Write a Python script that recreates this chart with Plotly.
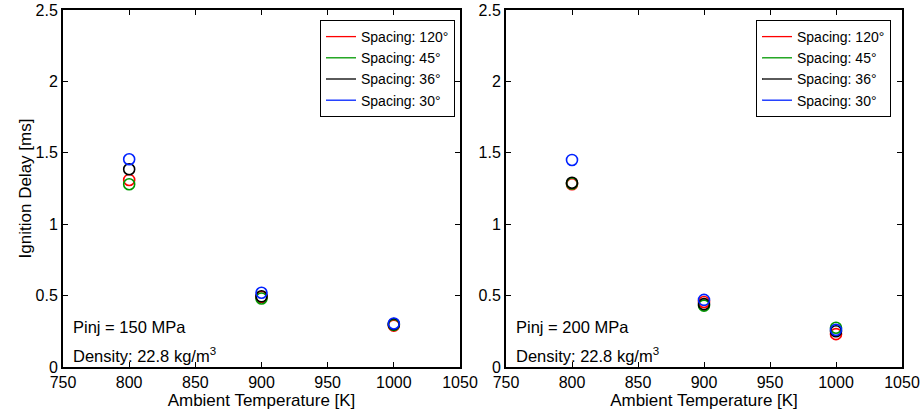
import plotly.graph_objects as go

temps = [800, 900, 1000]
labels = ["Spacing: 120°", "Spacing: 45°", "Spacing: 36°", "Spacing: 30°"]
colors = ["#ff0000", "#009900", "#000000", "#0022ff"]

# Pinj = 150 MPa
left_120 = [1.31, 0.49, 0.29]
left_45 = [1.28, 0.48, 0.295]
left_36 = [1.385, 0.495, 0.30]
left_30 = [1.455, 0.52, 0.305]

# Pinj = 200 MPa
right_120 = [1.28, 0.455, 0.23]
right_45 = [1.285, 0.43, 0.275]
right_36 = [1.29, 0.44, 0.25]
right_30 = [1.45, 0.47, 0.26]

xticks = [750, 800, 850, 900, 950, 1000, 1050]
yticks = [0, 0.5, 1, 1.5, 2, 2.5]
ytick_text = ["0", "0.5", "1", "1.5", "2", "2.5"]

fig = go.Figure()
font_family = "Liberation Sans, Arial, sans-serif"

left = [left_120, left_45, left_36, left_30]
right = [right_120, right_45, right_36, right_30]

for xa, ya, data, leg in [("x", "y", left, "legend"), ("x2", "y2", right, "legend2")]:
    for lab, col, vals in zip(labels, colors, data):
        fig.add_trace(go.Scatter(
            x=temps, y=vals, mode="markers", xaxis=xa, yaxis=ya,
            marker=dict(symbol="circle-open", size=11, color=col, line=dict(width=1.6, color=col)),
            showlegend=False, legend=leg))
    for lab, col in zip(labels, colors):
        fig.add_trace(go.Scatter(
            x=[None], y=[None], mode="lines", xaxis=xa, yaxis=ya,
            line=dict(color=col, width=1.3), name=lab, showlegend=True, legend=leg))

axis_common = dict(
    range=[750, 1050], tickvals=xticks, ticks="inside", ticklen=5, tickwidth=1,
    tickcolor="black", showline=True, linecolor="black", linewidth=2, mirror="ticks",
    showgrid=False, zeroline=False, tickfont=dict(size=16, color="black"),
    automargin=False,
    title=dict(text="Ambient Temperature [K]", font=dict(size=17, color="black"), standoff=4),
)
yaxis_common = dict(
    range=[0, 2.5], tickvals=yticks, ticktext=ytick_text, ticks="inside", ticklen=5,
    tickwidth=1, tickcolor="black", showline=True, linecolor="black", linewidth=2,
    mirror="ticks", showgrid=False, zeroline=False, tickfont=dict(size=16, color="black"),
    automargin=False,
)

ydom = [50 / 417, 1 - 10 / 417]
leg_common = dict(yanchor="top", xanchor="right", bordercolor="black", borderwidth=1,
                  bgcolor="white", font=dict(size=14, color="black"), tracegroupgap=0)
fig.update_layout(
    width=922, height=417,
    margin=dict(l=0, r=0, t=0, b=0),
    paper_bgcolor="white", plot_bgcolor="white",
    font=dict(family=font_family, color="black"),
    xaxis=dict(domain=[63 / 922, 460 / 922], anchor="y", **axis_common),
    yaxis=dict(domain=ydom, anchor="x",
               title=dict(text="Ignition Delay [ms]", font=dict(size=17, color="black"), standoff=0),
               **yaxis_common),
    xaxis2=dict(domain=[506 / 922, 902 / 922], anchor="y2", **axis_common),
    yaxis2=dict(domain=ydom, anchor="x2", **yaxis_common),
    legend=dict(x=455 / 922, y=1 - 20 / 417, **leg_common),
    legend2=dict(x=891 / 922, y=1 - 20 / 417, **leg_common),
)

for xref, yref, txt in [("x domain", "y domain", "Pinj = 150 MPa"), ("x2 domain", "y2 domain", "Pinj = 200 MPa")]:
    fig.add_annotation(x=0.02, y=0.112, xref=xref, yref=yref, text=txt, showarrow=False,
                       xanchor="left", yanchor="middle", font=dict(size=16.5, color="black"))
    fig.add_annotation(x=0.02, y=0.035, xref=xref, yref=yref, text="Density: 22.8 kg/m<sup>3</sup>",
                       showarrow=False, xanchor="left", yanchor="middle",
                       font=dict(size=16.5, color="black"))

fig.write_html("out.html", config={"displayModeBar": False},
               post_script="document.body.style.margin='0';")
